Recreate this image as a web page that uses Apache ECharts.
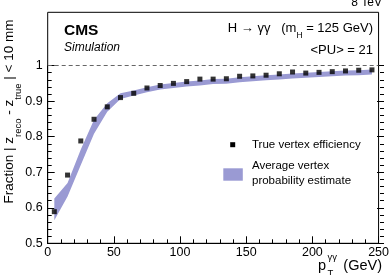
<!DOCTYPE html>
<html><head><meta charset="utf-8">
<script src="https://cdn.jsdelivr.net/npm/echarts@6/dist/echarts.min.js"></script>
<style>html,body{margin:0;padding:0;background:#fff}#c{width:392px;height:275px}</style>
</head><body><div id="c"></div>
<script>
// ---- data ----
const ptBins = [5,15,25,35,45,55,65,75,85,95,105,115,125,135,145,155,165,175,185,195,205,215,225,235,245];
const trueVertexEff = [0.589,0.692,0.788,0.849,0.884,0.910,0.922,0.937,0.944,0.950,0.955,0.962,0.962,0.963,0.970,0.971,0.973,0.977,0.982,0.979,0.981,0.983,0.985,0.987,0.988];
const probBandLower = [0.565,0.632,0.720,0.808,0.870,0.906,0.916,0.925,0.933,0.937,0.941,0.944,0.948,0.949,0.953,0.956,0.959,0.961,0.964,0.966,0.968,0.970,0.972,0.973,0.975];
const probBandUpper = [0.626,0.670,0.764,0.848,0.894,0.922,0.930,0.939,0.947,0.951,0.955,0.958,0.962,0.963,0.967,0.970,0.973,0.975,0.978,0.980,0.982,0.984,0.986,0.987,0.989];
const xTickValues = [0,50,100,150,200,250];
const yTickValues = [0.5,0.6,0.7,0.8,0.9,1];
const yFrameMax = 1.15;
const referenceLine = 1;

// ---- style ----
const FONT = 'Liberation Sans, Arial, Helvetica, sans-serif';
const BAND = '#9a9ad3';
const G = {left:47.7, right:8, top:12.3, bottom:31.7};

const chart = echarts.init(document.getElementById('c'), null, {renderer:'canvas'});
const tickStyle = {color:'#000', width:1};
const bandData = ptBins.map((x,i)=>[x, probBandLower[i], probBandUpper[i]]);

chart.setOption({
  animation:false,
  backgroundColor:'#fff',
  grid:[
    {left:G.left, right:G.right, top:G.top, bottom:G.bottom, show:true, borderColor:'#000', borderWidth:1, backgroundColor:'transparent'},
    {left:G.left, right:G.right, top:65.6, bottom:G.bottom, show:false}
  ],
  xAxis:[
    {gridIndex:0, type:'value', min:xTickValues[0], max:xTickValues[xTickValues.length-1], interval:xTickValues[1]-xTickValues[0],
     axisLine:{show:true, lineStyle:tickStyle}, axisTick:{show:true, inside:true, length:7, lineStyle:tickStyle},
     minorTick:{show:true, splitNumber:5, length:4, lineStyle:tickStyle}, splitLine:{show:false},
     axisLabel:{color:'#000', fontSize:12.5, fontFamily:FONT, margin:3, showMaxLabel:true, showMinLabel:true}},
    {gridIndex:1, type:'value', min:xTickValues[0], max:xTickValues[xTickValues.length-1], show:false}
  ],
  yAxis:[
    {gridIndex:0, type:'value', min:yTickValues[0], max:yFrameMax, show:false, splitLine:{show:false}},
    {gridIndex:1, type:'value', position:'left', min:yTickValues[0], max:yTickValues[yTickValues.length-1], interval:0.1,
     axisLine:{show:true, lineStyle:tickStyle}, axisTick:{show:true, inside:true, length:7, lineStyle:tickStyle},
     minorTick:{show:true, splitNumber:5, length:4, lineStyle:tickStyle}, splitLine:{show:false},
     axisLabel:{color:'#000', fontSize:12.5, fontFamily:FONT, margin:5}},
    {gridIndex:1, type:'value', position:'right', min:yTickValues[0], max:yTickValues[yTickValues.length-1], interval:0.1,
     axisLine:{show:false}, axisTick:{show:true, inside:true, length:7, lineStyle:tickStyle},
     minorTick:{show:true, splitNumber:5, length:4, lineStyle:tickStyle}, splitLine:{show:false},
     axisLabel:{show:false}}
  ],
  series:[
    {name:'Average vertex probability estimate', type:'custom', xAxisIndex:0, yAxisIndex:0, silent:true, clip:true, z:2,
     data:bandData,
     renderItem:function(params, api){
       if (params.dataIndex !== 0) return null;
       const upperPts = bandData.map(d=>api.coord([d[0], d[2]]));
       const lowerPts = bandData.map(d=>api.coord([d[0], d[1]])).reverse();
       return {type:'polygon', shape:{points:upperPts.concat(lowerPts)}, style:{fill:BAND, stroke:null}};
     }},
    {name:'True vertex efficiency', type:'scatter', xAxisIndex:0, yAxisIndex:0, symbol:'rect', symbolSize:5,
     itemStyle:{color:'#000'}, z:5,
     data:ptBins.map((x,i)=>[x, trueVertexEff[i]]),
     markLine:{silent:true, symbol:['none','none'], label:{show:false},
       lineStyle:{color:'#666', type:[4,3], width:1}, data:[{yAxis:referenceLine}]}}
  ],
  graphic:[
    {type:'text', z:100, x:382, y:2.4, style:{text:'8 TeV', fontSize:12, fontFamily:FONT, fill:'#000', textAlign:'right', textVerticalAlign:'middle'}},
    {type:'text', z:100, x:64, y:30.5, style:{text:'CMS', fontSize:15.5, fontWeight:'bold', fontFamily:FONT, fill:'#000', textAlign:'left', textVerticalAlign:'middle'}},
    {type:'text', z:100, x:64, y:47.5, style:{text:'Simulation', fontSize:12, fontStyle:'italic', fontFamily:FONT, fill:'#000', textAlign:'left', textVerticalAlign:'middle'}},
    {type:'text', z:100, x:373, y:28.3, style:{text:'H \u2192 \u03b3\u03b3   (m{s|H} = 125 GeV)', fontSize:13, fontFamily:FONT, fill:'#000', textAlign:'right', textVerticalAlign:'middle',
      rich:{s:{fontSize:8.5, fontFamily:FONT, fill:'#000', padding:[14,0,0,0]}}}},
    {type:'text', z:100, x:373, y:50.8, style:{text:'<PU> = 21', fontSize:13, fontFamily:FONT, fill:'#000', textAlign:'right', textVerticalAlign:'middle'}},
    // legend
    {type:'rect', z:100, shape:{x:230.2, y:142.2, width:5, height:5}, style:{fill:'#000'}},
    {type:'text', z:100, x:252, y:144.7, style:{text:'True vertex efficiency', fontSize:11.5, fontFamily:FONT, fill:'#000', textAlign:'left', textVerticalAlign:'middle'}},
    {type:'rect', z:100, shape:{x:223.3, y:168.3, width:19.5, height:12.4}, style:{fill:BAND}},
    {type:'text', z:100, x:252, y:173.5, style:{text:'Average vertex\nprobability estimate', fontSize:11.5, lineHeight:15, fontFamily:FONT, fill:'#000', textAlign:'left', textVerticalAlign:'middle'}},
    // y title
    {type:'text', z:100, x:9.5, y:111.5, rotation:Math.PI/2, style:{text:'Fraction | z{s|reco} - z{s|true} | < 10 mm', fontSize:13.5, fontFamily:FONT, fill:'#000', textAlign:'center', textVerticalAlign:'middle',
      rich:{s:{fontSize:9.5, fontFamily:FONT, fill:'#000', padding:[17,0,0,0]}}}},
    // x title
    {type:'text', z:100, x:318, y:265.5, style:{text:'p', fontSize:14.5, fontFamily:FONT, fill:'#000', textAlign:'left', textVerticalAlign:'middle'}},
    {type:'text', z:100, x:327.5, y:257.6, style:{text:'\u03b3\u03b3', fontSize:9.5, fontFamily:FONT, fill:'#000', textAlign:'left', textVerticalAlign:'middle'}},
    {type:'text', z:100, x:327.5, y:273.5, style:{text:'T', fontSize:9.5, fontFamily:FONT, fill:'#000', textAlign:'left', textVerticalAlign:'middle'}},
    {type:'text', z:100, x:382, y:265.5, style:{text:'(GeV)', fontSize:14.5, fontFamily:FONT, fill:'#000', textAlign:'right', textVerticalAlign:'middle'}}
  ]
});
</script>
</body></html>
